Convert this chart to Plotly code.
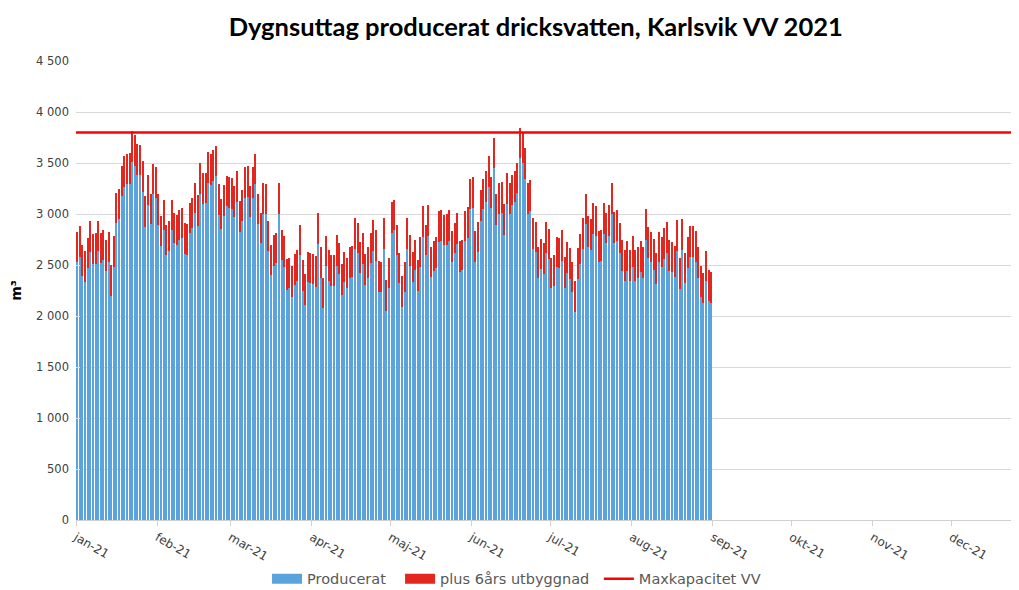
import pandas as pd
import plotly.graph_objects as go

# ---- data ----
START_DATE = "2021-01-01"

producerat = [
    2525, 2581, 2392, 2336, 2467, 2630, 2506, 2509, 2636, 2516,
    2548, 2444, 2525, 2196, 2483, 2907, 2949, 3174, 3265, 3291,
    3298, 3510, 3471, 3386, 3379, 3216, 2874, 3086, 2900, 3193,
    3161, 2897, 2685, 2841, 2597, 2636, 2841, 2711, 2695, 2744,
    2763, 2607, 2600, 2809, 2861, 3008, 2884, 3200, 3102, 3105,
    3304, 3287, 3327, 3370, 2991, 2851, 2982,
    3076, 3063, 3053, 2972, 3119, 2825, 2933, 3161, 3167, 2972,
    3161, 3291, 2900, 2711, 3004, 2998, 2636, 2401, 2493, 2516,
    3004, 2548, 2483, 2255, 2271, 2190, 2304, 2343, 2597, 2245,
    2108, 2330, 2320, 2310, 2287, 2705, 2375, 2075, 2489, 2343,
    2297, 2297, 2493, 2411, 2206, 2330, 2271, 2375, 2385, 2656,
    2613, 2424, 2509, 2304, 2375, 2516, 2641, 2542, 2239, 2232,
    2656,
    2049, 2271, 2815, 2841, 2597, 2320, 2092, 2232, 2656, 2493,
    2330, 2450, 2245, 2476, 2776, 2597, 2786, 2379, 2440, 2473,
    2727, 2737, 2695, 2701, 2737, 2532, 2613, 2705, 2434, 2450,
    2734, 2767, 3047, 3063, 2532, 2623, 2933, 3047, 3122, 3265,
    3063, 3448, 2894, 3004, 3014, 2796, 3102, 3004, 3086, 3122,
    3203, 3546, 3497, 3347, 3004, 3030, 2656, 2623,
    2375, 2457, 2411, 2620, 2555, 2271, 2297, 2476, 2467, 2542,
    2278, 2424, 2362, 2232, 2043, 2362, 2506, 2656, 2900,
    2680, 2651, 2804, 2782, 2534, 2544, 2804, 2713, 2788, 3000,
    2716, 2739, 2615, 2446, 2348, 2439, 2348, 2485, 2348, 2374,
    2436, 2374,
    2749, 2570, 2527, 2452, 2315, 2527, 2478, 2560, 2619, 2446,
    2429, 2387, 2641, 2266, 2648, 2322, 2472, 2583, 2583, 2534,
    2374, 2191, 2126, 2341, 2152, 2130,
]

# extra for 6 years of development: a constant ~300 m3 on every day in the picture
UTBYGGNAD_PER_DAY = 300
utbyggnad = [UTBYGGNAD_PER_DAY for _ in producerat]

MAXKAPACITET = 3800

month_ticks = ["2021-01-01", "2021-02-01", "2021-03-01", "2021-04-01",
               "2021-05-01", "2021-06-01", "2021-07-01", "2021-08-01",
               "2021-09-01", "2021-10-01", "2021-11-01", "2021-12-01"]
month_labels = ["jan-21", "feb-21", "mar-21", "apr-21", "maj-21", "jun-21",
                "jul-21", "aug-21", "sep-21", "okt-21", "nov-21", "dec-21"]

y_ticks = [0, 500, 1000, 1500, 2000, 2500, 3000, 3500, 4000, 4500]

BLUE = "#5BA3DC"
RED = "#E3261E"
LINE_RED = "#FF0000"

# ---- figure ----
dates = pd.date_range(START_DATE, periods=len(producerat), freq="D")
x_mid = dates + pd.Timedelta(hours=12)
day_ms = 86400000

x_range = ["2021-01-01", "2021-12-26 12:00"]

fig = go.Figure()
fig.add_trace(go.Bar(
    x=x_mid, y=producerat, name="Producerat",
    marker=dict(color=BLUE, line=dict(width=0)),
    width=day_ms * 0.48, showlegend=False,
))
fig.add_trace(go.Bar(
    x=x_mid, y=utbyggnad, name="plus 6års utbyggnad",
    marker=dict(color=RED, line=dict(width=0)),
    width=day_ms * 0.48, showlegend=False,
))
fig.add_trace(go.Scatter(
    x=["2021-01-01", "2022-01-01"], y=[MAXKAPACITET, MAXKAPACITET],
    mode="lines", name="Maxkapacitet VV",
    line=dict(color=LINE_RED, width=2.5), showlegend=False,
))
# legend entries (wide swatches like the original)
NBSP = "\u00a0"
for name, color, w in [("Producerat" + NBSP * 2, BLUE, 10),
                       ("plus 6års utbyggnad" + NBSP, RED, 10),
                       ("Maxkapacitet VV", LINE_RED, 2.5)]:
    fig.add_trace(go.Scatter(
        x=[None], y=[None], mode="lines", name=name,
        line=dict(color=color, width=w), showlegend=True,
    ))

# the page body adds an 8px margin, so the figure is 8px smaller than the window
fig.update_layout(
    width=1011, height=582,
    barmode="stack", bargap=0,
    separators=", ",
    paper_bgcolor="white", plot_bgcolor="white",
    margin=dict(l=68, r=1, t=53, b=70, autoexpand=False),
    title=dict(
        text="<b>Dygnsuttag producerat dricksvatten, Karlsvik VV 2021</b>",
        x=0.522, xanchor="center", y=0.967, yanchor="middle",
        font=dict(family="Lato, Open Sans, sans-serif", size=25.5, color="#000000"),
    ),
    font=dict(family="DejaVu Sans, Verdana, sans-serif", color="#595959"),
    legend=dict(
        orientation="h", x=0.2028, xanchor="left", y=-0.128, yanchor="middle",
        font=dict(family="DejaVu Sans, Verdana, sans-serif", size=14.5, color="#595959"),
        traceorder="normal", itemwidth=30,
    ),
    showlegend=True,
)

fig.update_xaxes(
    type="date", range=x_range, automargin=False,
    tickvals=month_ticks, ticktext=month_labels,
    tickangle=30, tickfont=dict(size=12, color="#404040"),
    showgrid=False, showline=True, linecolor="#D0D0D0", linewidth=1,
    ticks="outside", ticklen=5, tickcolor="#D0D0D0",
    zeroline=False,
)
fig.update_yaxes(
    range=[0, 4500], tickvals=y_ticks, tickformat=",d", automargin=False,
    tickfont=dict(size=11.5, color="#404040"),
    showgrid=True, gridcolor="#D9D9D9", gridwidth=1,
    showline=False, zeroline=False,
    ticks="inside", ticklen=4, tickcolor="#D9D9D9",
    ticklabelstandoff=6,
    title=dict(text="<b>m³</b>", font=dict(size=14, color="#000000"), standoff=20),
)

fig.write_html("out.html")
